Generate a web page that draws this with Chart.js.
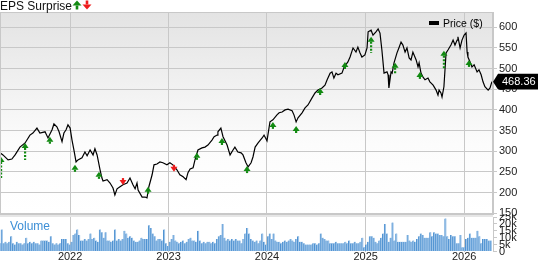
<!DOCTYPE html>
<html>
<head>
<meta charset="utf-8">
<script src="https://cdn.jsdelivr.net/npm/chart.js@4.4.1/dist/chart.umd.min.js"></script>
<style>
  html, body { margin: 0; padding: 0; background: #fff; }
  #wrap { position: relative; width: 538px; height: 262px; overflow: hidden; }
  #wrap canvas { position: absolute; left: 0; }
  #priceCanvas { top: 0; }
  #volCanvas { top: 214px; }
</style>
</head>
<body>
<div id="wrap">
  <canvas id="priceCanvas" width="538" height="224"></canvas>
  <canvas id="volCanvas" width="538" height="48"></canvas>
</div>
<script>
// price line
const priceDates = [
  '2021-04-16','2021-04-27','2021-05-16','2021-05-30','2021-06-11','2021-06-29','2021-07-18','2021-08-05','2021-08-16','2021-08-31',
  '2021-09-11','2021-09-30','2021-10-11','2021-10-26','2021-11-02','2021-11-13','2021-11-21','2021-12-02','2021-12-09','2021-12-17',
  '2021-12-24','2022-01-01','2022-01-08','2022-01-15','2022-01-23','2022-01-30','2022-02-14','2022-02-25','2022-03-05','2022-03-16',
  '2022-03-27','2022-04-03','2022-04-11','2022-04-22','2022-04-29','2022-05-03','2022-05-18','2022-05-29','2022-06-09','2022-06-16',
  '2022-06-24','2022-07-05','2022-07-16','2022-07-31','2022-08-11','2022-08-22','2022-08-30','2022-09-06','2022-09-10','2022-09-25',
  '2022-10-06','2022-10-13','2022-10-20','2022-11-01','2022-11-08','2022-11-19','2022-11-30','2022-12-11','2022-12-26','2023-01-06',
  '2023-01-17','2023-02-01','2023-02-12','2023-02-24','2023-03-07','2023-03-14','2023-03-22','2023-04-02','2023-04-09','2023-04-20',
  '2023-05-05','2023-05-16','2023-05-27','2023-06-11','2023-06-19','2023-06-30','2023-07-03','2023-07-14','2023-07-22','2023-08-06',
  '2023-08-17','2023-08-28','2023-09-04','2023-09-15','2023-09-27','2023-10-04','2023-10-15','2023-10-23','2023-11-03','2023-11-10',
  '2023-11-18','2023-11-29','2023-12-14','2023-12-21','2024-01-01','2024-01-12','2024-01-23','2024-02-07','2024-02-15','2024-02-26',
  '2024-03-08','2024-03-19','2024-04-03','2024-04-10','2024-04-18','2024-04-25','2024-05-10','2024-05-21','2024-06-01','2024-06-16',
  '2024-06-27','2024-07-08','2024-07-23','2024-08-03','2024-08-11','2024-08-22','2024-08-29','2024-09-05','2024-09-13','2024-09-20',
  '2024-10-05','2024-10-13','2024-10-27','2024-11-04','2024-11-15','2024-11-26','2024-12-03','2024-12-11','2024-12-18','2024-12-29',
  '2025-01-06','2025-01-10','2025-01-21','2025-01-28','2025-02-08','2025-02-16','2025-02-23','2025-03-02','2025-03-10','2025-03-21',
  '2025-03-25','2025-03-28','2025-04-05','2025-04-09','2025-04-16','2025-04-27','2025-05-04','2025-05-12','2025-05-19','2025-05-27',
  '2025-06-03','2025-06-11','2025-06-18','2025-06-25','2025-07-07','2025-07-14','2025-07-18','2025-07-25','2025-08-01','2025-08-09',
  '2025-08-20','2025-08-27','2025-09-08','2025-09-19','2025-09-26','2025-09-30','2025-10-07','2025-10-11','2025-10-18','2025-10-22',
  '2025-10-26','2025-11-02','2025-11-13','2025-11-21','2025-11-28','2025-12-06','2025-12-09','2025-12-17','2025-12-24','2026-01-01',
  '2026-01-08','2026-01-12','2026-01-15','2026-01-23','2026-01-30','2026-02-07','2026-02-18','2026-02-25','2026-03-05','2026-03-12',
  '2026-03-19','2026-03-31','2026-04-07','2026-04-14'
];
const priceValues = [
  296,291,279,281,291,310,320,339,344,356,
  344,347,332,352,366,359,347,323,344,352,
  364,356,327,303,274,279,284,298,289,303,
  291,306,291,255,235,228,231,223,211,194,
  209,214,219,223,235,219,209,223,206,189,
  189,187,214,243,267,269,274,272,267,272,
  267,255,243,238,231,248,257,260,279,303,
  308,310,315,327,335,339,347,356,335,315,
  291,303,310,298,296,291,272,262,272,286,
  310,320,332,339,325,371,376,388,393,395,
  400,402,398,388,371,381,393,405,412,429,
  441,448,453,460,473,489,492,477,489,485,
  489,504,516,528,550,540,552,538,528,533,
  550,589,593,581,589,596,586,545,489,492,
  485,453,492,489,514,538,550,564,557,540,
  550,526,521,540,521,504,514,489,480,473,
  477,468,460,448,436,448,441,431,456,497,
  538,545,557,569,557,569,577,550,569,581,
  586,540,528,516,504,509,492,497,485,468,
  456,448,453,468.36
];
const lastPrice = 468.36;

// EPS surprise arrows: report date, beat (true) / miss (false), arrow span in price
const epsDates = ['2021-04-20','2021-07-18','2021-10-18','2022-01-19','2022-04-18','2022-07-16','2022-10-17','2023-01-21','2023-04-16','2023-07-18',
                  '2023-10-19','2024-01-23','2024-04-18','2024-07-16','2024-10-16','2025-01-21','2025-04-20','2025-07-21','2025-10-18','2026-01-19'];
const epsBeat  = [true,true,true,true,true,false,true,false,true,true,
                  true,true,true,true,true,true,true,true,true,true];
const epsHigh  = [286,320,335,267,250,235,214,267,296,332,264,371,361,453,516,577,514,492,543,521];
const epsLow   = [235,279,320,248,231,218,199,252,279,315,248,356,344,434,499,538,489,475,499,504];

// weekly volume, thousands
const volumeStart = '2021-04-16';
const volumeK = [
  6,16,6,7,6,7,11,6,5,7, 6,6,5,6,10,6,7,6,7,6,
  6,5,8,8,8,8,7,11,6,5, 6,5,6,9,9,9,6,5,7,12,
  13,16,12,8,8,9,8,9,13,9, 10,8,7,16,14,10,14,8,8,7,
  8,16,8,9,8,9,15,13,10,11, 10,8,7,7,8,10,9,9,9,19,
  17,13,11,8,9,9,8,16,6,4, 7,9,12,8,7,6,7,8,6,7,
  9,10,8,8,7,15,8,6,7,6, 7,7,6,7,6,9,11,12,20,10,
  8,9,8,9,8,9,8,8,6,9, 13,17,13,9,8,7,8,6,8,13,
  7,5,11,13,9,13,8,7,7,6, 7,8,7,8,9,8,7,9,11,7,
  7,6,5,5,5,5,6,6,5,6, 13,10,9,8,8,6,6,6,7,6,
  6,6,6,7,6,8,6,6,7,6, 6,7,10,3,5,7,11,11,10,7,
  6,8,10,13,20,13,7,10,21,8, 13,7,7,7,7,7,12,8,7,8,
  7,9,11,13,12,10,10,10,14,11, 14,13,13,12,12,11,24,11,9,12,
  11,11,6,6,12,3,3,9,10,13, 10,10,10,15,11,6,9,9,9,8,
  8
];

const yearTicks = [2022, 2023, 2024, 2025, 2026];
const priceTicks = [150, 200, 250, 300, 350, 400, 450, 500, 550, 600];
const volumeTicks = [0, 5, 10, 15, 20, 25];

const xMin = Date.parse('2021-04-16');
const xMax = Date.parse('2026-04-18');
const DAY = 86400000;
const volumeDates = volumeK.map((_, i) => Date.parse(volumeStart) + i * 7 * DAY);

const FONT = "'Liberation Sans', Arial, sans-serif";
Chart.defaults.font.family = FONT;
const GRID = '#c8c8c8';
const GREEN = '#128a12';
const RED = '#ee1c1c';

function yearTickBuilder(scale) {
  scale.ticks = yearTicks.map(y => ({ value: Date.UTC(y, 0, 1) }));
}

function drawArrow(ctx, x, yTop, yBottom, up, color, hw, solid) {
  const head = 5;
  ctx.save();
  ctx.fillStyle = color;
  ctx.strokeStyle = color;
  ctx.lineWidth = solid ? 2.6 : 2.2;
  if (!solid) ctx.setLineDash([2, 1.5]);
  if (up) {
    ctx.beginPath();
    ctx.moveTo(x, yTop);
    ctx.lineTo(x + hw, yTop + head);
    ctx.lineTo(x - hw, yTop + head);
    ctx.closePath();
    ctx.fill();
    ctx.beginPath();
    ctx.moveTo(x, yTop + head);
    ctx.lineTo(x, Math.max(yBottom, yTop + head + 2));
    ctx.stroke();
  } else {
    const tip = Math.max(yBottom, yTop + head + 2);
    ctx.beginPath();
    ctx.moveTo(x, yTop);
    ctx.lineTo(x, tip - head);
    ctx.stroke();
    ctx.beginPath();
    ctx.moveTo(x, tip);
    ctx.lineTo(x + hw, tip - head);
    ctx.lineTo(x - hw, tip - head);
    ctx.closePath();
    ctx.fill();
  }
  ctx.restore();
}

const priceDecor = {
  id: 'priceDecor',
  beforeDraw(chart) {
    const { ctx, chartArea: a } = chart;
    const g = ctx.createLinearGradient(0, a.top, 0, a.bottom);
    g.addColorStop(0, '#e3e3e3');
    g.addColorStop(0.65, '#fcfcfc');
    g.addColorStop(1, '#ffffff');
    ctx.save();
    ctx.fillStyle = g;
    ctx.fillRect(a.left, a.top, a.right - a.left, a.bottom - a.top);
    ctx.restore();
  },
  afterDatasetsDraw(chart) {
    const { ctx, chartArea: a, scales } = chart;
    ctx.save();
    ctx.beginPath();
    ctx.rect(a.left, a.top, a.right - a.left, a.bottom - a.top);
    ctx.clip();
    epsDates.forEach((d, i) => {
      const x = scales.x.getPixelForValue(Date.parse(d));
      const yt = scales.y.getPixelForValue(epsHigh[i]);
      const yb = scales.y.getPixelForValue(epsLow[i]);
      drawArrow(ctx, x, yt, yb, epsBeat[i], epsBeat[i] ? GREEN : RED, 3.5, false);
    });
    ctx.restore();
  },
  afterDraw(chart) {
    const { ctx, chartArea: a, scales } = chart;
    ctx.save();
    // frame
    ctx.strokeStyle = GRID;
    ctx.lineWidth = 1;
    ctx.strokeRect(a.left + 0.5, a.top + 0.5, a.right - a.left - 1, a.bottom - a.top);
    // title
    ctx.fillStyle = '#111';
    ctx.font = '12px ' + FONT;
    ctx.textBaseline = 'alphabetic';
    ctx.textAlign = 'left';
    ctx.fillText('EPS Surprise', 0, 10);
    drawArrow(ctx, 77, 0.5, 9.5, true, GREEN, 4.5, true);
    drawArrow(ctx, 87, 0.5, 9.5, false, RED, 4.5, true);
    // legend
    ctx.fillStyle = '#000';
    ctx.fillRect(429, 21, 10, 4);
    ctx.font = '10.5px ' + FONT;
    ctx.textBaseline = 'middle';
    ctx.fillText('Price ($)', 443, 24);
    // last price tag
    const y = scales.y.getPixelForValue(lastPrice);
    ctx.beginPath();
    ctx.moveTo(a.right, y);
    ctx.lineTo(a.right + 5, y - 7.8);
    ctx.lineTo(538, y - 7.8);
    ctx.lineTo(538, y + 7.8);
    ctx.lineTo(a.right + 5, y + 7.8);
    ctx.closePath();
    ctx.fill();
    ctx.fillStyle = '#fff';
    ctx.font = '11px ' + FONT;
    ctx.fillText(lastPrice.toFixed(2), a.right + 9, y + 0.5);
    ctx.restore();
  }
};

new Chart(document.getElementById('priceCanvas'), {
  type: 'line',
  data: {
    datasets: [{
      data: priceDates.map((d, i) => ({ x: Date.parse(d), y: priceValues[i] })),
      borderColor: '#000',
      borderWidth: 1.2,
      pointRadius: 0,
      tension: 0
    }]
  },
  options: {
    responsive: false,
    animation: false,
    layout: { padding: { top: 12, left: 0, right: 0, bottom: 0 } },
    plugins: { legend: { display: false }, tooltip: { enabled: false } },
    scales: {
      x: {
        type: 'linear', min: xMin, max: xMax,
        afterBuildTicks: yearTickBuilder,
        afterFit: s => { s.height = 10; s.paddingLeft = 0; s.paddingRight = 0; },
        ticks: { display: false },
        grid: { color: GRID, drawTicks: false },
        border: { display: false }
      },
      y: {
        position: 'right', min: 148, max: 637,
        afterBuildTicks: s => { s.ticks = priceTicks.map(v => ({ value: v })); },
        afterFit: s => { s.width = 45; s.paddingTop = 0; s.paddingBottom = 0; },
        grid: { color: GRID, tickLength: 4 },
        border: { color: GRID },
        ticks: { color: '#222', font: { size: 11 }, padding: 2, autoSkip: false }
      }
    }
  },
  plugins: [priceDecor]
});

const volDecor = {
  id: 'volDecor',
  beforeDraw(chart) {
    const { ctx, chartArea: a } = chart;
    ctx.save();
    ctx.fillStyle = '#e6e6e6';
    ctx.fillRect(a.left, 0, a.right - a.left, a.top);
    ctx.strokeStyle = GRID;
    ctx.beginPath();
    ctx.moveTo(a.left, 0.5);
    ctx.lineTo(a.right, 0.5);
    ctx.stroke();
    ctx.restore();
  },
  afterDraw(chart) {
    const { ctx } = chart;
    ctx.save();
    ctx.fillStyle = '#3d8fd6';
    ctx.font = '12px ' + FONT;
    ctx.textBaseline = 'middle';
    ctx.fillText('Volume', 10, 13);
    ctx.restore();
  }
};

new Chart(document.getElementById('volCanvas'), {
  type: 'bar',
  data: {
    datasets: [{
      data: volumeDates.map((d, i) => ({ x: d, y: volumeK[i] })),
      backgroundColor: '#9cc3e8',
      borderColor: '#4a8fd0',
      borderWidth: { left: 1, right: 0, top: 0, bottom: 0 },
      barPercentage: 1,
      categoryPercentage: 1
    }]
  },
  options: {
    responsive: false,
    animation: false,
    layout: { padding: { top: 3, left: 0, right: 0, bottom: 0 } },
    plugins: { legend: { display: false }, tooltip: { enabled: false } },
    scales: {
      x: {
        type: 'linear', min: xMin, max: xMax, offset: false,
        afterBuildTicks: yearTickBuilder,
        afterFit: s => { s.height = 10.5; s.paddingLeft = 0; s.paddingRight = 0; },
        ticks: {
          color: '#222', font: { size: 11, lineHeight: 1 }, padding: 0, maxRotation: 0, autoSkip: false,
          callback: v => String(new Date(v).getUTCFullYear())
        },
        grid: { color: GRID, drawTicks: false, offset: false },
        border: { display: false }
      },
      y: {
        position: 'right', min: 0, max: 25,
        afterBuildTicks: s => { s.ticks = volumeTicks.map(v => ({ value: v })); },
        afterFit: s => { s.width = 45; s.paddingTop = 0; s.paddingBottom = 0; },
        grid: { color: GRID, tickLength: 4, drawOnChartArea: false },
        border: { color: GRID },
        ticks: { color: '#222', font: { size: 11 }, padding: 2, autoSkip: false,
                 callback: v => v === 0 ? '0' : v + 'k' }
      }
    }
  },
  plugins: [volDecor]
});
</script>
</body>
</html>
